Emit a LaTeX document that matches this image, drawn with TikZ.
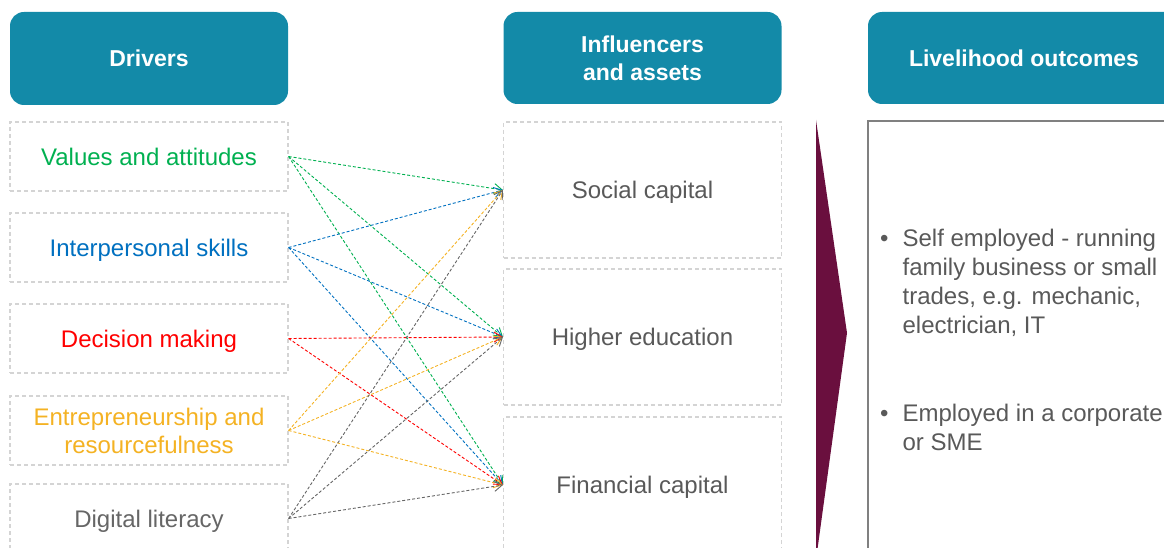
\documentclass[tikz,border=0pt]{standalone}
\usepackage{fontspec}
\setmainfont{Liberation Sans}
\usetikzlibrary{arrows.meta}

\definecolor{headteal}{HTML}{138AA8}
\definecolor{boxgrey}{HTML}{D4D4D4}
\definecolor{outgrey}{HTML}{808080}
\definecolor{textgrey}{HTML}{595959}
\definecolor{chevcol}{HTML}{6A0F3E}
\definecolor{drvcol1}{HTML}{00B050}
\definecolor{drvcol2}{HTML}{0070C0}
\definecolor{drvcol3}{HTML}{FF0000}
\definecolor{drvcol4}{HTML}{F4B223}
\definecolor{drvcol5}{HTML}{666666}

\begin{document}
\begin{tikzpicture}[x=1pt,y=-1pt,
		headbox/.style={fill=headteal, rounded corners=14pt, text=white, align=center, inner sep=0pt,
			text depth=0pt, font=\bfseries\fontsize{23}{28}\selectfont},
		dashbox/.style={draw=boxgrey, line width=1.2pt, dash pattern=on 4pt off 3pt, inner sep=0pt,
			text depth=0pt, align=center, font=\fontsize{24}{28}\selectfont},
		outtext/.style={text=textgrey, inner sep=0pt, font=\fontsize{24}{29.3}\selectfont},
		link/.style={line width=0.9pt, dash pattern=on 3pt off 2pt,
			-{Straight Barb[length=8pt,width=10pt]}}]
		\pgfmathsetmacro{\boxwidth}{278}
		\pgfmathsetmacro{\drvheight}{69}
		\pgfmathsetmacro{\assetheight}{136}
		
		\useasboundingbox (0,0) rectangle (1164,548);
		\clip (0,0) rectangle (1164,548);
		
		\node[headbox, minimum width=\boxwidth, minimum height=93] (drivershead) at (149,58.5) {Drivers};
		\node[headbox, minimum width=\boxwidth, minimum height=92] (assetshead) at (642.5,58) {Influencers\\and assets};
		\node[headbox, minimum width=312, minimum height=92] (outcomehead) at (1024,58) {Livelihood outcomes};
		
		\foreach \name/\y[count=\i] in {Values and attitudes/156.5, Interpersonal skills/247.5, Decision making/338.5,
			Entrepreneurship and\\resourcefulness/430.5, Digital literacy/518.5}
		{
			\node[dashbox, text=drvcol\i, minimum width=\boxwidth, minimum height=\drvheight] (driver\i) at (149,\y) {\name};
		}
		
		\foreach \name/\y[count=\i] in {Social capital/190, Higher education/337, Financial capital/485}
		{
			\node[dashbox, text=textgrey, minimum width=\boxwidth, minimum height=\assetheight] (asset\i) at (642.5,\y) {\name};
		}
		
		\foreach \d/\a in {1/1, 1/2, 1/3, 2/1, 2/2, 2/3, 3/2, 3/3, 4/1, 4/2, 4/3, 5/1, 5/2, 5/3}
		{
			\draw[link, drvcol\d] (driver\d.east) -- (asset\a.west);
		}
		
		\fill[chevcol] (816,120) -- (847,333) -- (816,560) -- cycle;
		
		\node[draw=outgrey, line width=1.2pt, minimum width=312, minimum height=440] (outcome) at (1024,341) {};
		\node[outtext, anchor=base west] (item1) at (880,246)
			{\begin{tabular}[t]{@{}l@{\hspace{14pt}}l@{}}
				\textbullet & Self employed - running\\
				& family business or small\\
				& trades, e.g. mechanic,\\
				& electrician, IT
			\end{tabular}};
		\node[outtext, anchor=base west] (item2) at (880,421)
			{\begin{tabular}[t]{@{}l@{\hspace{14pt}}l@{}}
				\textbullet & Employed in a corporate\\
				& or SME
			\end{tabular}};
	\end{tikzpicture}
\end{document}
